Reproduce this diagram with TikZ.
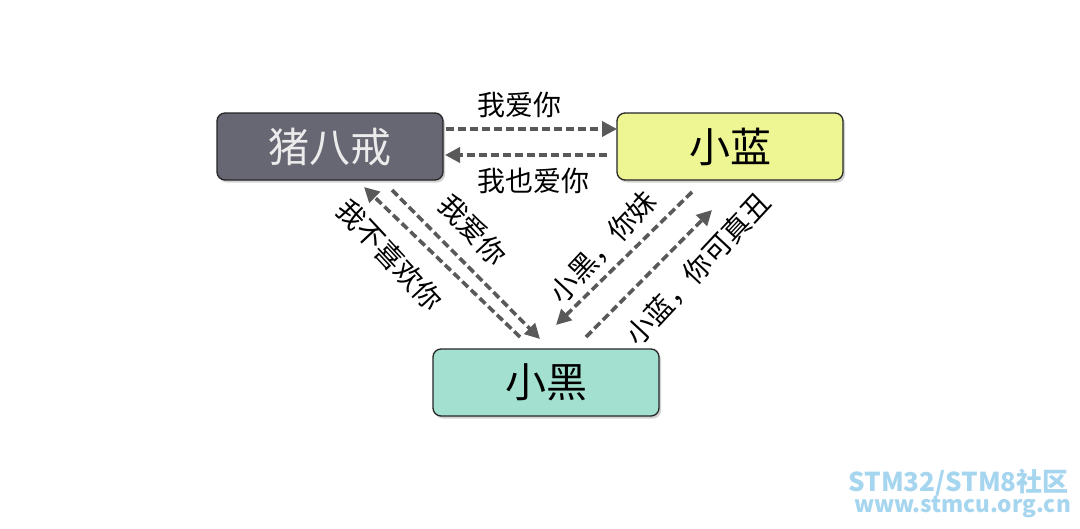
\documentclass[tikz,border=0pt]{standalone}
\usepackage{fontspec}
\setmainfont{Noto Sans CJK SC}
\usetikzlibrary{arrows.meta,shadows}
\definecolor{zbjfill}{HTML}{676673}
\definecolor{xlfill}{HTML}{EEF593}
\definecolor{xhfill}{HTML}{A3E0D0}
\definecolor{arrowgray}{HTML}{595959}
\definecolor{wmblue}{HTML}{A6D6EF}
\tikzset{
  person/.style={draw=black!85, line width=1.3pt, rounded corners=8pt,
    minimum width=226pt, minimum height=67pt, inner sep=0pt,
    font=\fontsize{41}{43}\selectfont,
    drop shadow={opacity=0.35, shadow xshift=2pt, shadow yshift=-2.5pt}},
  msg/.style={draw=arrowgray, line width=3.6pt, dash pattern=on 8pt off 4pt,
    -{Triangle[length=15pt,width=15pt,fill=arrowgray]}},
  lbl/.style={font=\fontsize{28}{30}\selectfont, inner sep=0pt, text=black},
  wm/.style={text=wmblue, inner sep=0pt, anchor=north east, font=\bfseries}
}
\begin{document}
\begin{tikzpicture}[x=1pt,y=-1pt]
\useasboundingbox (0,0) rectangle (1080,528);
\fill[white] (0,0) rectangle (1080,528);
% nodes
\node[person, fill=zbjfill, text=black!8] (zbj) at (330,146.5) {猪八戒};
\node[person, fill=xlfill] (xl) at (730,146.5) {小蓝};
\node[person, fill=xhfill] (xh) at (546,382.5) {小黑};
% connector end points
\coordinate (a1s) at (446,129); \coordinate (a1e) at (617,129);
\coordinate (a2s) at (607,155); \coordinate (a2e) at (445,155);
\coordinate (a3s) at (520,337); \coordinate (a3e) at (364,187);
\coordinate (a4s) at (392,190); \coordinate (a4e) at (540,339);
\coordinate (a5s) at (692,192); \coordinate (a5e) at (556,325);
\coordinate (a6s) at (586,337); \coordinate (a6e) at (712,210);
% connectors
\draw[msg] (a1s) -- (a1e);
\draw[msg] (a2s) -- (a2e);
\draw[msg] (a3s) -- (a3e);
\draw[msg] (a4s) -- (a4e);
\draw[msg] (a5s) -- (a5e);
\draw[msg] (a6s) -- (a6e);
% labels
\node[lbl] (l1) at (519,105) {我爱你};
\node[lbl] (l2) at (533,181) {我也爱你};
\node[lbl, rotate=-47] (l3) at (390,255) {我不喜欢你};
\node[lbl, rotate=-47] (l4) at (473,230) {我爱你};
\node[lbl, rotate=47] (l5) at (603,247) {小黑，你妹};
\node[lbl, rotate=47] (l6) at (698,269) {小蓝，你可真丑};
% watermark
\node[wm, font=\bfseries\fontsize{26}{27}\selectfont] (w1) at (1069,469) {STM32/STM8社区};
\node[wm, font=\bfseries\fontsize{22.5}{24}\selectfont] (w2) at (1071,496) {www.stmcu.org.cn};
\end{tikzpicture}
\end{document}
